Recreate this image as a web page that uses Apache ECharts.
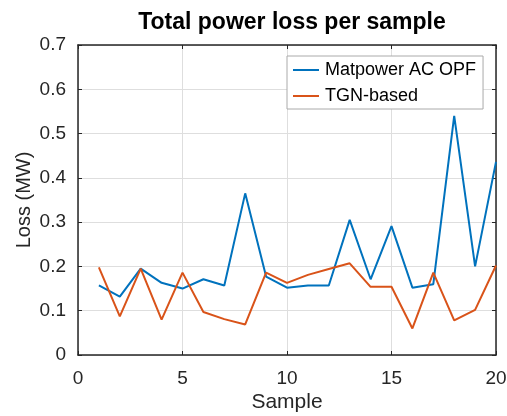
<!DOCTYPE html>
<html>
<head>
<meta charset="utf-8">
<script src="https://cdn.jsdelivr.net/npm/echarts@6/dist/echarts.min.js"></script>
<style>html,body{margin:0;padding:0;background:#fff;}#c{width:507px;height:416px;}</style>
</head>
<body>
<div id="c"></div>
<script>
const samples = [1,2,3,4,5,6,7,8,9,10,11,12,13,14,15,16,17,18,19,20];
const matpower = [0.157,0.132,0.195,0.163,0.150,0.171,0.157,0.365,0.177,0.152,0.157,0.157,0.305,0.171,0.291,0.152,0.160,0.540,0.200,0.436];
const tgn = [0.198,0.087,0.195,0.080,0.186,0.097,0.081,0.069,0.186,0.163,0.181,0.194,0.207,0.154,0.154,0.060,0.186,0.078,0.102,0.202];
const seriesNames = ['Matpower AC OPF','TGN-based'];

const FONT = 'Liberation Sans, Arial, Helvetica, sans-serif';
const AX = '#262626';
const chart = echarts.init(document.getElementById('c'), null, {renderer:'canvas'});
const baseX = {type:'value', min:0, max:20, interval:5};
const baseY = {type:'value', min:0, max:0.7, interval:0.1};
chart.setOption({
  animation:false,
  backgroundColor:'#fff',
  title:{text:'Total power loss per sample', left:287, top:6, textAlign:'center',
    textStyle:{fontFamily:FONT, fontSize:23, fontWeight:'bold', color:'#000'}},
  legend:{orient:'vertical', left:287, top:56, width:186,
    padding:[5,7,4,6], itemGap:8, itemWidth:26, itemHeight:2, icon:'rect',
    borderColor:'#aaaaaa', borderWidth:1, backgroundColor:'#fff',
    textStyle:{fontFamily:FONT, fontSize:18, color:'#000', padding:[0,0,0,1]},
    data:seriesNames},
  grid:{left:78, right:11, top:45, bottom:61, containLabel:false, outerBoundsMode:'none'},
  xAxis:[
    Object.assign({}, baseX, {position:'bottom', name:'Sample', nameLocation:'middle', nameGap:37,
      nameMoveOverlap:false,
      nameTextStyle:{fontFamily:FONT, fontSize:21, color:AX},
      axisLine:{show:true, onZero:false, lineStyle:{color:AX, width:1.5}},
      axisTick:{show:true, inside:true, length:4, lineStyle:{color:AX}},
      axisLabel:{fontFamily:FONT, fontSize:19, color:AX, margin:14},
      splitLine:{show:true, lineStyle:{color:'#dedede', width:1}}}),
    Object.assign({}, baseX, {position:'top',
      axisLine:{show:true, onZero:false, lineStyle:{color:AX, width:1.5}},
      axisTick:{show:true, inside:true, length:4, lineStyle:{color:AX}},
      axisLabel:{show:false}, splitLine:{show:false}})
  ],
  yAxis:[
    Object.assign({}, baseY, {position:'left', name:'Loss (MW)', nameLocation:'middle', nameGap:44,
      nameMoveOverlap:false,
      nameTextStyle:{fontFamily:FONT, fontSize:20, color:AX},
      axisLine:{show:true, onZero:false, lineStyle:{color:AX, width:1.5}},
      axisTick:{show:true, inside:true, length:4, lineStyle:{color:AX}},
      axisLabel:{fontFamily:FONT, fontSize:19, color:AX, margin:12,
        formatter:v=>v===0?'0':v.toFixed(1)},
      splitLine:{show:true, lineStyle:{color:'#dedede', width:1}}}),
    Object.assign({}, baseY, {position:'right',
      axisLine:{show:true, onZero:false, lineStyle:{color:AX, width:1.5}},
      axisTick:{show:true, inside:true, length:4, lineStyle:{color:AX}},
      axisLabel:{show:false}, splitLine:{show:false}})
  ],
  series:[
    {name:seriesNames[0], type:'line', xAxisIndex:0, yAxisIndex:0, symbol:'none',
      lineStyle:{color:'#0072BD', width:2}, itemStyle:{color:'#0072BD'},
      data:samples.map((s,i)=>[s,matpower[i]])},
    {name:seriesNames[1], type:'line', xAxisIndex:0, yAxisIndex:0, symbol:'none',
      lineStyle:{color:'#D95319', width:2}, itemStyle:{color:'#D95319'},
      data:samples.map((s,i)=>[s,tgn[i]])}
  ]
});
</script>
</body>
</html>
